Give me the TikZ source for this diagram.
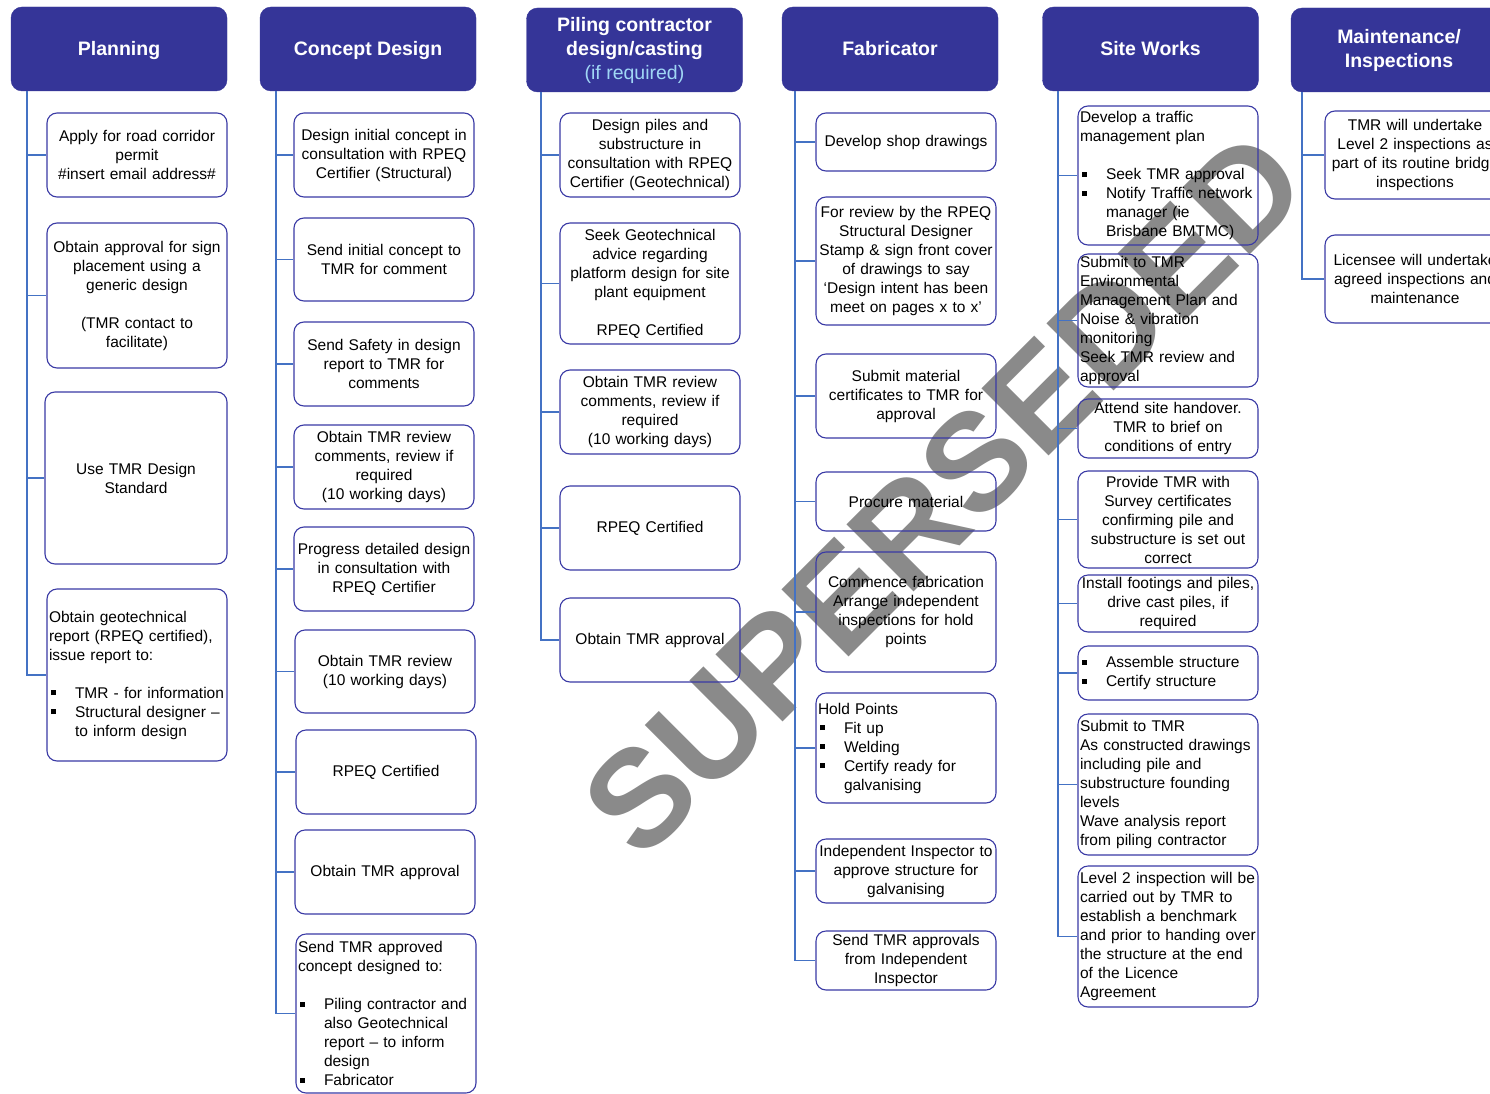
\documentclass[tikz,border=0pt]{standalone}
\usepackage{fontspec}
\setmainfont{Liberation Sans}
\definecolor{hdrc}{RGB}{53,53,152}
\definecolor{bxc}{RGB}{58,58,165}
\definecolor{connc}{RGB}{68,114,196}
\definecolor{wmc}{RGB}{138,138,138}
\definecolor{lbc}{RGB}{160,215,245}
\newcommand\bul{\makebox[26pt][l]{\hspace{1.5pt}\rule[3pt]{5pt}{5pt}}}
\newcommand\ind{\hspace*{26pt}}
\newcommand\hstrut{\rule[-5pt]{0pt}{23pt}}
\begin{document}
\begin{tikzpicture}[x=1pt,y=-1pt,
  hdr/.style={fill=hdrc,draw=hdrc,rounded corners=11pt,minimum width=216pt,minimum height=84pt,
    text=white,align=center,font=\fontsize{19.5}{24}\selectfont\bfseries},
  box/.style={draw=bxc,line width=1.1pt,rounded corners=10pt,inner xsep=2pt,inner ysep=0pt,
    font=\fontsize{15.5}{19}\selectfont,text width=176pt,minimum width=180pt,align=center},
  lbox/.style={box,align=left},
  conn/.style={draw=connc,line width=1.3pt}]
\clip (0,0) rectangle (1490,1094);
\fill[white] (0,0) rectangle (1490,1094);
% watermark
\node[rotate=45,text=wmc,font=\fontsize{138}{138}\selectfont\bfseries,inner sep=0pt] (wm) at (944,494) {SUPERSEDED};
% headers
\node[hdr] (hP) at (119,49) {\hstrut Planning};
\node[hdr] (hC) at (368,49) {\hstrut Concept Design};
\node[hdr] (hL) at (634.5,50) {Piling contractor\\design/casting\\{\mdseries\color{lbc}(if required)}};
\node[hdr] (hF) at (890,49) {\hstrut Fabricator};
\node[hdr] (hS) at (1150.5,49) {\hstrut Site Works};
\node[hdr] (hM) at (1399,50) {Maintenance/\\Inspections};
% Planning
\node[box,minimum height=84pt] (pl1) at (137,155) {Apply for road corridor\\permit\\\#insert email address\#};
\node[box,minimum height=145pt] (pl2) at (137,295.5) {Obtain approval for sign\\placement using a\\generic design\\[19pt](TMR contact to\\facilitate)};
\node[box,minimum height=172pt,minimum width=182pt,text width=178pt] (pl3) at (136,478) {Use TMR Design\\Standard};
\node[lbox,minimum height=172pt] (pl4) at (137,675) {Obtain geotechnical\\report (RPEQ certified),\\issue report to:\\[19pt]\bul TMR - for information\\\bul Structural designer –\\\ind to inform design};
% Concept
\node[box,minimum height=84pt] (cd1) at (384,155) {Design initial concept in\\consultation with RPEQ\\Certifier (Structural)};
\node[box,minimum height=83pt] (cd2) at (384,259.5) {Send initial concept to\\TMR for comment};
\node[box,minimum height=84pt] (cd3) at (384,364) {Send Safety in design\\report to TMR for\\comments};
\node[box,minimum height=84pt] (cd4) at (384,467) {Obtain TMR review\\comments, review if\\required\\(10 working days)};
\node[box,minimum height=84pt] (cd5) at (384,569) {Progress detailed design\\in consultation with\\RPEQ Certifier};
\node[box,minimum height=83pt] (cd6) at (385,671.5) {Obtain TMR review\\(10 working days)};
\node[box,minimum height=84pt] (cd7) at (386,772) {RPEQ Certified};
\node[box,minimum height=84pt] (cd8) at (385,872) {Obtain TMR approval};
\node[lbox,minimum height=159pt] (cd9) at (386,1013.5) {Send TMR approved\\concept designed to:\\[19pt]\bul Piling contractor and\\\ind also Geotechnical\\\ind report – to inform\\\ind design\\\bul Fabricator};
% Piling
\node[box,minimum height=84pt] (pc1) at (650,155) {Design piles and\\substructure in\\consultation with RPEQ\\Certifier (Geotechnical)};
\node[box,minimum height=121pt] (pc2) at (650,283.5) {Seek Geotechnical\\advice regarding\\platform design for site\\plant equipment\\[19pt]RPEQ Certified};
\node[box,minimum height=84pt] (pc3) at (650,412) {Obtain TMR review\\comments, review if\\required\\(10 working days)};
\node[box,minimum height=84pt] (pc4) at (650,528) {RPEQ Certified};
\node[box,minimum height=84pt] (pc5) at (650,640) {Obtain TMR approval};
% Fabricator
\node[box,minimum height=58pt] (fb1) at (906,142) {Develop shop drawings};
\node[box,minimum height=128pt] (fb2) at (906,261) {For review by the RPEQ\\Structural Designer\\Stamp \& sign front cover\\of drawings to say\\‘Design intent has been\\meet on pages x to x’};
\node[box,minimum height=84pt] (fb3) at (906,396) {Submit material\\certificates to TMR for\\approval};
\node[box,minimum height=59pt] (fb4) at (906,501.5) {Procure material};
\node[box,minimum height=120pt] (fb5) at (906,612) {Commence fabrication\\Arrange independent\\inspections for hold\\points};
\node[lbox,minimum height=110pt] (fb6) at (906,748) {Hold Points\\\bul Fit up\\\bul Welding\\\bul Certify ready for\\\ind galvanising};
\node[box,minimum height=64pt] (fb7) at (906,871) {Independent Inspector to\\approve structure for\\galvanising};
\node[box,minimum height=59pt] (fb8) at (906,960.5) {Send TMR approvals\\from Independent\\Inspector};
% Site works
\node[lbox,minimum height=139pt] (sw1) at (1168,175.5) {Develop a traffic\\management plan\\[19pt]\bul Seek TMR approval\\\bul Notify Traffic network\\\ind manager (ie\\\ind Brisbane BMTMC)};
\node[lbox,minimum height=133pt] (sw2) at (1168,320.5) {Submit to TMR\\Environmental\\Management Plan and\\Noise \& vibration\\monitoring\\Seek TMR review and\\approval};
\node[box,minimum height=59pt] (sw3) at (1168,428.5) {Attend site handover.\\TMR to brief on\\conditions of entry};
\node[box,minimum height=97pt] (sw4) at (1168,519.5) {Provide TMR with\\Survey certificates\\confirming pile and\\substructure is set out\\correct};
\node[box,minimum height=57pt] (sw5) at (1168,603.5) {Install footings and piles,\\drive cast piles, if\\required};
\node[lbox,minimum height=54pt] (sw6) at (1168,673) {\bul Assemble structure\\\bul Certify structure};
\node[lbox,minimum height=141pt] (sw7) at (1168,784.5) {Submit to TMR\\As constructed drawings\\including pile and\\substructure founding\\levels\\Wave analysis report\\from piling contractor};
\node[lbox,minimum height=141pt] (sw8) at (1168,936.5) {Level 2 inspection will be\\carried out by TMR to\\establish a benchmark\\and prior to handing over\\the structure at the end\\of the Licence\\Agreement};
% Maintenance
\node[box,minimum height=88pt] (mt1) at (1415,155) {TMR will undertake\\Level 2 inspections as\\part of its routine bridge\\inspections};
\node[box,minimum height=88pt] (mt2) at (1415,279) {Licensee will undertake\\agreed inspections and\\maintenance};
% spines
\coordinate (sP) at (27,91);
\coordinate (sC) at (276,91);
\coordinate (sL) at (541,92);
\coordinate (sF) at (795,91);
\coordinate (sS) at (1058,91);
\coordinate (sM) at (1302,92);
\foreach \b in {pl1,pl2,pl3,pl4} \draw[conn] (sP) |- (\b.west);
\foreach \b in {cd1,cd2,cd3,cd4,cd5,cd6,cd7,cd8,cd9} \draw[conn] (sC) |- (\b.west);
\foreach \b in {pc1,pc2,pc3,pc4,pc5} \draw[conn] (sL) |- (\b.west);
\foreach \b in {fb1,fb2,fb3,fb4,fb5,fb6,fb7,fb8} \draw[conn] (sF) |- (\b.west);
\foreach \b in {sw1,sw2,sw3,sw4,sw5,sw6,sw7,sw8} \draw[conn] (sS) |- (\b.west);
\foreach \b in {mt1,mt2} \draw[conn] (sM) |- (\b.west);
\end{tikzpicture}
\end{document}
